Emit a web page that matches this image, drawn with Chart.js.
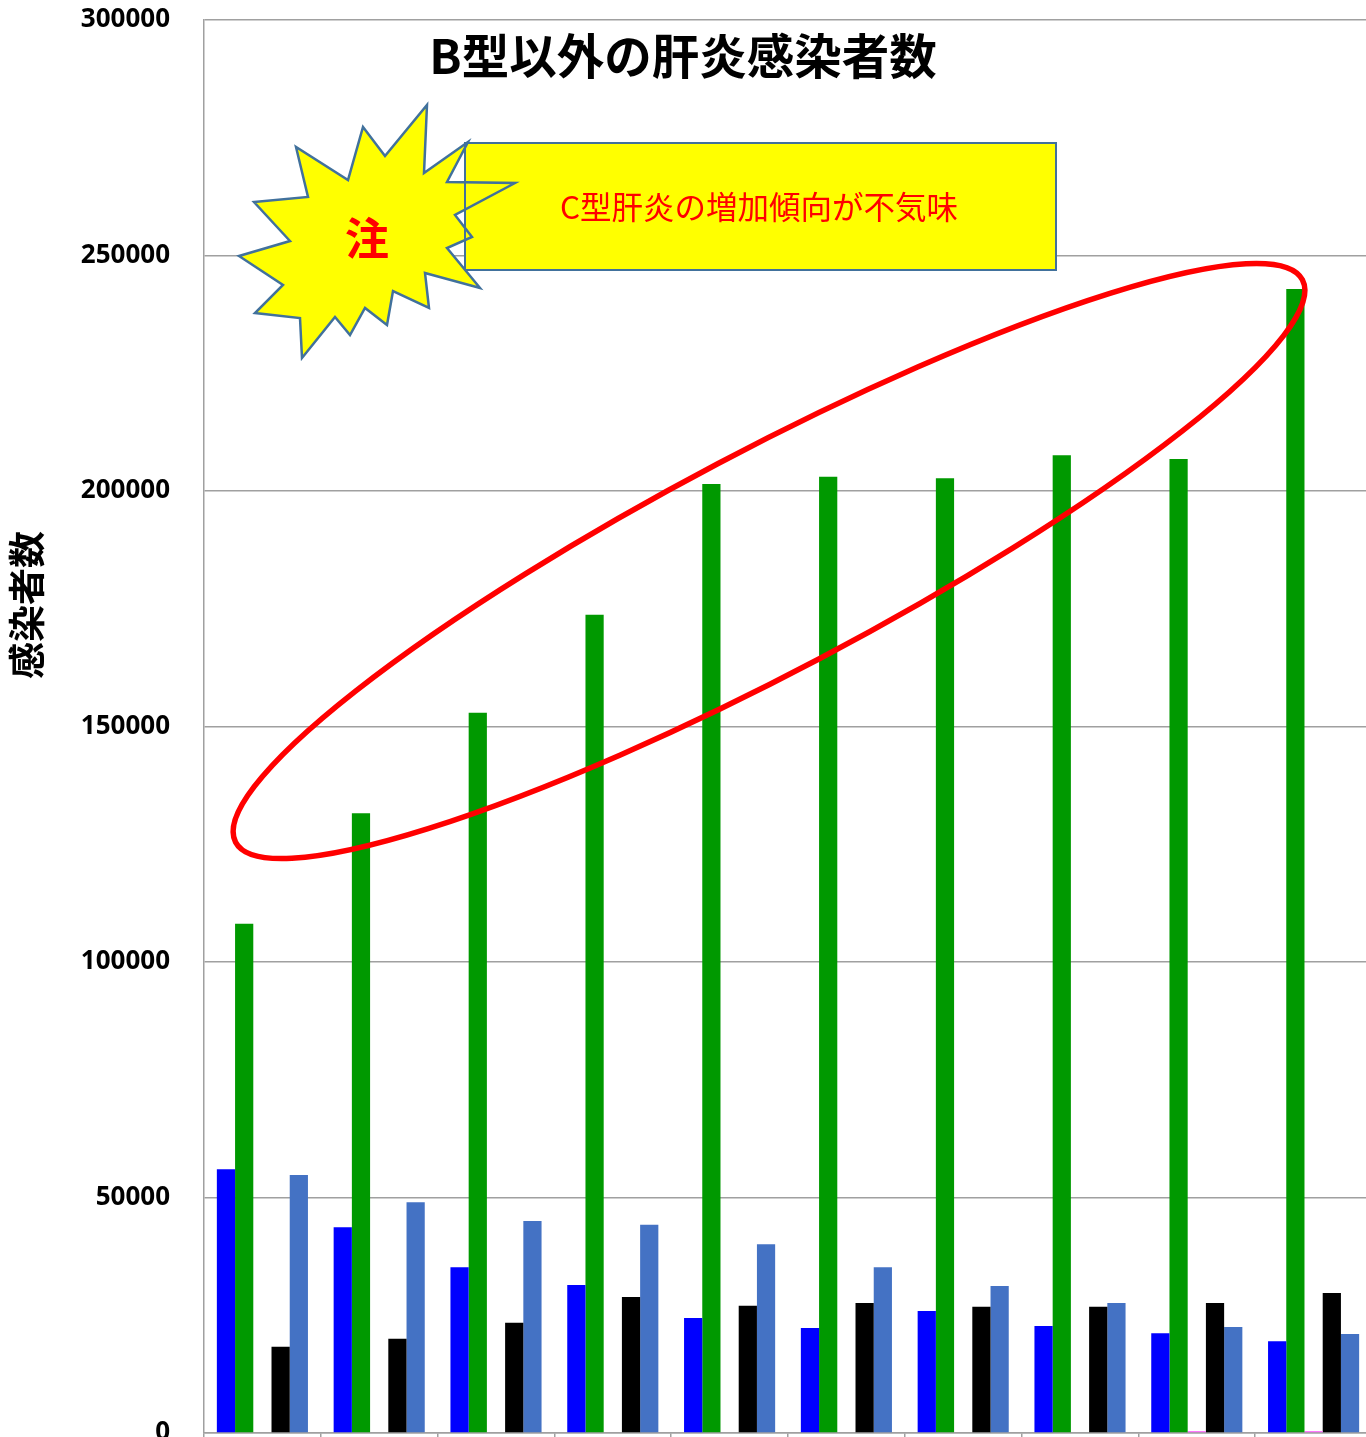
<!DOCTYPE html>
<html lang="ja">
<head>
<meta charset="utf-8">
<title>B型以外の肝炎感染者数</title>
<script src="https://cdn.jsdelivr.net/npm/chart.js@4.4.1/dist/chart.umd.min.js"></script>
<style>
  html, body { margin: 0; padding: 0; background: #fff; overflow: hidden; }
  #wrap { width: 1366px; height: 1437px; overflow: hidden; position: relative; }
  canvas { display: block; }
</style>
</head>
<body>
<!-- 元の図は右端と下端が少し切れているので、キャンバスを大きめにして切り取る -->
<div id="wrap"><canvas id="chart" width="1372" height="1470"></canvas></div>
<script>
// データ（グラフから読み取った概算値）
var categories = ['1', '2', '3', '4', '5', '6', '7', '8', '9', '10'];
var seriesNames = ['A型', 'C型', 'D型', 'E型', 'その他'];
var seriesA = [56000, 43700, 35200, 31400, 24400, 22300, 25900, 22700, 21200, 19500];
var seriesC = [108100, 131600, 152900, 173700, 201500, 203000, 202700, 207600, 206800, 242900];
var seriesD = [0, 0, 0, 0, 0, 0, 0, 0, 400, 400];
var seriesE = [18300, 20000, 23400, 28900, 27000, 27600, 26800, 26800, 27600, 29700];
var seriesOther = [54800, 49000, 45000, 44200, 40100, 35200, 31200, 27600, 22500, 21000];
var seriesColors = ['#0000ff', '#009900', '#ff66ff', '#000000', '#4472c4'];

var yTicks = { min: 0, max: 300000, step: 50000 };

var chartTitle = 'B型以外の肝炎感染者数';
var yTitle = '感染者数';
var noteMark = '注';
var noteText = 'C型肝炎の増加傾向が不気味';

var jpFont = "'Noto Sans CJK JP', 'Noto Sans', sans-serif";

// 注釈（タイトル、吹き出し、楕円）を描くプラグイン
var overlayPlugin = {
  id: 'overlay',
  afterDraw: function (chart) {
    var ctx = chart.ctx;
    ctx.save();

    // タイトル
    ctx.fillStyle = '#000';
    ctx.font = 'bold 47.5px ' + jpFont;
    ctx.textAlign = 'center';
    ctx.textBaseline = 'middle';
    ctx.fillText(chartTitle, 683, 56);

    // 縦軸タイトル（軸の中央ではなく少し上にある）
    ctx.save();
    ctx.translate(27, 605);
    ctx.rotate(-Math.PI / 2);
    ctx.font = 'bold 37px ' + jpFont;
    ctx.fillText(yTitle, 0, 0);
    ctx.restore();

    // 爆発形の星
    var cx = 365, cy = 235;
    var star = [
      [62, -130], [59, -62], [103, -93], [82, -53], [150, -52], [90, -20],
      [107, 2], [82, 13], [115, 53], [60, 38], [64, 73], [28, 56],
      [22, 90], [0, 73], [-15, 100], [-30, 82], [-63, 123], [-65, 83],
      [-110, 78], [-82, 50], [-126, 21], [-75, 6], [-111, -33], [-57, -38],
      [-69, -88], [-17, -55], [-2, -108], [20, -79]
    ];
    function starPath() {
      ctx.beginPath();
      for (var i = 0; i < star.length; i++) {
        var px = cx + star[i][0], py = cy + star[i][1];
        if (i === 0) ctx.moveTo(px, py); else ctx.lineTo(px, py);
      }
      ctx.closePath();
    }

    // 黄色の四角
    var rx = 465, ry = 143, rw = 591, rh = 127;
    ctx.fillStyle = '#ffff00';
    ctx.fillRect(rx, ry, rw, rh);
    ctx.strokeStyle = '#41719c';
    ctx.lineWidth = 2;
    ctx.strokeRect(rx, ry, rw, rh);

    starPath();
    ctx.fillStyle = '#ffff00';
    ctx.fill();
    ctx.lineWidth = 2.5;
    ctx.strokeStyle = '#41719c';
    ctx.stroke();

    // 四角の左辺を星の上に
    ctx.lineWidth = 2;
    ctx.beginPath();
    ctx.moveTo(rx, ry);
    ctx.lineTo(rx, ry + rh);
    ctx.stroke();

    ctx.fillStyle = '#ff0000';
    ctx.font = 'bold 44px ' + jpFont;
    ctx.fillText(noteMark, 367, 238);

    ctx.font = '31.5px ' + jpFont;
    ctx.fillText(noteText, 759, 207);

    // 赤い楕円
    ctx.beginPath();
    ctx.ellipse(769, 561, 603, 110, -27.8 * Math.PI / 180, 0, Math.PI * 2);
    ctx.strokeStyle = '#ff0000';
    ctx.lineWidth = 5.5;
    ctx.stroke();

    ctx.restore();
  }
};

var seriesData = [seriesA, seriesC, seriesD, seriesE, seriesOther];
var datasets = seriesData.map(function (d, i) {
  return {
    label: seriesNames[i],
    data: d,
    backgroundColor: seriesColors[i],
    borderWidth: 0,
    categoryPercentage: 0.78,
    barPercentage: 1.0
  };
});

var ctxChart = document.getElementById('chart');
var chartBar = new Chart(ctxChart, {
  type: 'bar',
  data: {
    labels: categories,
    datasets: datasets
  },
  options: {
    responsive: false,
    animation: false,
    devicePixelRatio: 1,
    layout: {
      padding: { top: 20, right: 0, bottom: 29, left: 0 }
    },
    plugins: {
      legend: { display: false },
      tooltip: { enabled: false }
    },
    scales: {
      x: {
        grid: {
          offset: true,
          drawOnChartArea: false,
          drawTicks: true,
          tickLength: 8,
          color: '#a0a0a0',
          lineWidth: 1.5
        },
        border: { color: '#a0a0a0', width: 1.5 },
        ticks: { display: false }
      },
      y: {
        min: yTicks.min,
        max: yTicks.max,
        afterFit: function (scale) { scale.width = 204; },
        ticks: {
          stepSize: yTicks.step,
          padding: 0,
          color: '#000',
          font: { family: "'Open Sans', 'Liberation Sans', sans-serif", size: 26, weight: 'bold' },
          callback: function (v) { return String(v); }
        },
        grid: {
          drawTicks: true,
          tickLength: 34,
          tickColor: 'rgba(0,0,0,0)',
          color: '#a0a0a0',
          lineWidth: 1.5
        },
        border: { color: '#a0a0a0', width: 1.5 }
      }
    }
  },
  plugins: [overlayPlugin]
});
</script>
</body>
</html>
